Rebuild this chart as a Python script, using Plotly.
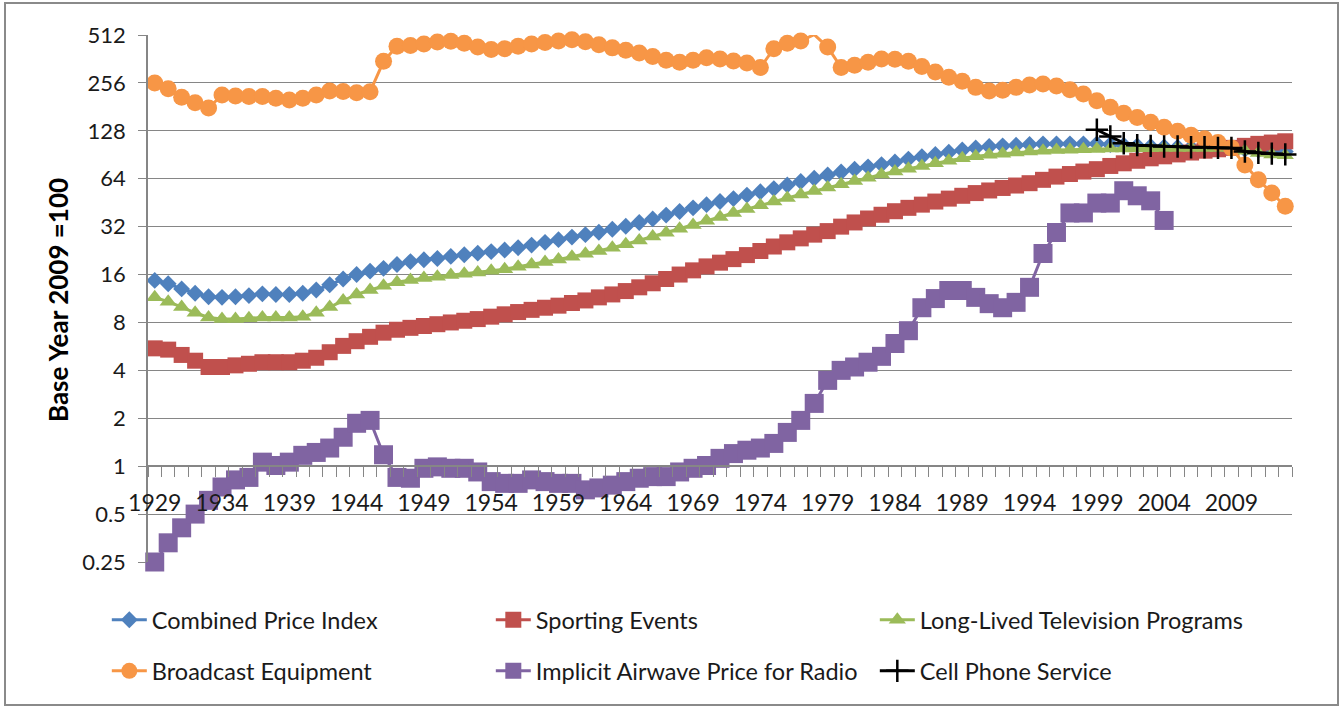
import plotly.graph_objects as go
import math

years = list(range(1929, 2014))

combined = [14.7, 14.0, 13.0, 12.2, 11.6, 11.5, 11.6, 11.8, 12.1, 12.0, 12.0, 12.2, 12.8, 13.8, 15.0, 16.0, 16.8,
            17.5, 18.5, 19.3, 19.8, 20.2, 20.8, 21.3, 21.8, 22.3, 22.8, 23.6, 24.5, 25.5, 26.5, 27.5, 28.5, 29.5,
            30.8, 32.2, 34.0, 35.8, 37.8, 39.8, 42.0, 44.0, 46.0, 48.0, 50.5, 53.0, 55.5, 58.5, 61.5, 64.5, 67.5,
            70.5, 73.5, 76.0, 78.5, 81.5, 85.0, 88.0, 91.0, 94.0, 97.0, 100.0, 102.0, 103.0, 104.0, 105.0, 106.0,
            106.0, 106.0, 106.0, 106.0, 105.0, 104.0, 103.0, 102.0, 101.5, 101.0, 100.5, 100.5, 100.5, 100.0,
            98.0, 97.0, 96.0, 95.0]

sporting = [5.5, 5.4, 5.0, 4.6, 4.2, 4.2, 4.3, 4.4, 4.5, 4.5, 4.5, 4.6, 4.8, 5.2, 5.7, 6.1, 6.5, 6.9, 7.2, 7.4,
            7.6, 7.8, 8.0, 8.2, 8.4, 8.7, 9.0, 9.3, 9.6, 9.9, 10.2, 10.6, 11.0, 11.5, 12.0, 12.6, 13.3, 14.1,
            15.0, 16.0, 17.0, 18.0, 19.0, 20.0, 21.2, 22.5, 24.0, 25.5, 27.0, 28.5, 30.0, 32.0, 34.0, 36.0, 38.0,
            40.0, 42.0, 44.0, 46.0, 48.0, 50.0, 52.0, 54.0, 56.0, 58.0, 60.0, 63.0, 66.0, 68.5, 71.0, 73.5, 77.0,
            80.0, 83.0, 86.0, 88.5, 91.0, 93.5, 96.0, 98.0, 100.0, 103.0, 106.0, 108.0, 110.0]

longlived = [11.5, 10.8, 10.0, 9.2, 8.6, 8.4, 8.4, 8.5, 8.6, 8.6, 8.6, 8.7, 9.2, 10.0, 11.0, 12.0, 12.8, 13.6,
             14.3, 14.8, 15.2, 15.5, 15.9, 16.2, 16.5, 16.9, 17.3, 17.9, 18.5, 19.2, 19.9, 20.7, 21.6, 22.5, 23.6,
             24.8, 26.2, 27.7, 29.3, 31.0, 32.8, 34.8, 36.8, 39.0, 41.3, 43.6, 46.0, 48.5, 51.0, 53.6, 56.3, 59.0,
             62.0, 65.0, 68.0, 71.0, 74.0, 77.0, 80.0, 83.0, 86.0, 88.5, 90.5, 92.0, 93.5, 95.0, 96.0, 97.0, 97.5,
             98.0, 98.5, 99.0, 99.0, 99.5, 99.5, 100.0, 100.0, 100.0, 100.0, 100.0, 100.0, 96.0, 93.0, 91.0, 90.0]

broadcast = [256, 235, 208, 192, 178, 215, 212, 210, 210, 205, 200, 205, 215, 228, 226, 222, 225, 350, 435, 440,
             450, 462, 468, 455, 430, 415, 420, 435, 450, 460, 470, 478, 465, 445, 425, 410, 395, 375, 355, 345,
             355, 368, 362, 352, 342, 320, 420, 455, 470, 515, 430, 320, 330, 345, 362, 360, 350, 325, 300, 278,
             262, 240, 228, 230, 240, 248, 252, 245, 232, 218, 198, 180, 165, 155, 145, 135, 127, 120, 114, 108,
             100, 78, 63, 52, 43]

airwave = [0.25, 0.33, 0.41, 0.5, 0.61, 0.74, 0.82, 0.85, 1.06, 1.01, 1.06, 1.17, 1.22, 1.3, 1.52, 1.86, 1.94,
           1.18, 0.85, 0.84, 0.97, 0.99, 0.97, 0.97, 0.92, 0.8, 0.78, 0.78, 0.82, 0.8, 0.78, 0.78, 0.71, 0.73,
           0.76, 0.8, 0.84, 0.86, 0.86, 0.92, 0.97, 1.01, 1.12, 1.2, 1.26, 1.3, 1.39, 1.63, 1.94, 2.48, 3.46,
           4.0, 4.2, 4.5, 4.9, 5.9, 7.1, 9.9, 11.3, 12.7, 12.7, 11.5, 10.5, 9.9, 10.7, 13.3, 21.7, 29.4, 39.0,
           39.0, 45.0, 45.0, 53.8, 50.0, 46.5, 35.0] + [None] * 9

cellphone = [None] * 70 + [130, 118, 107, 104, 103, 102, 102, 101, 101, 100, 100, 95, 93, 92, 91]

series = [
    ("Combined Price Index", combined, "#4F81BD", "diamond", 13, "legend"),
    ("Sporting Events", sporting, "#C0504D", "square", 16, "legend"),
    ("Long-Lived Television Programs", longlived, "#9BBB59", "triangle-up", 15, "legend"),
    ("Broadcast Equipment", broadcast, "#F79646", "circle", 17, "legend2"),
    ("Implicit Airwave Price for Radio", airwave, "#8064A2", "square", 19, "legend2"),
    ("Cell Phone Service", cellphone, "#000000", "cross-thin", 16, "legend2"),
]

fig = go.Figure()
for name, vals, color, sym, size, leg in series:
    marker = dict(symbol=sym, size=size, color=color)
    if sym == "cross-thin":
        marker["line"] = dict(color=color, width=2.5)
    fig.add_trace(go.Scatter(
        x=years, y=vals, name=name, mode="lines+markers",
        line=dict(color=color, width=3), marker=marker,
        legend=leg, connectgaps=False, cliponaxis=False,
    ))

ytick_vals = [0.25, 0.5, 1, 2, 4, 8, 16, 32, 64, 128, 256, 512]
ytick_text = ["0.25", "0.5", "1", "2", "4", "8", "16", "32", "64", "128", "256", "512"]
xtick_vals = list(range(1929, 2014, 5))
xtick_text = [str(v) for v in xtick_vals]

font_family = "Lato, 'Noto Sans', sans-serif"
axis_gray = "#868686"
ylo, yhi = math.log10(0.25), math.log10(512)
x_pos = (0 - ylo) / (yhi - ylo)

fig.update_layout(
    width=1344, height=709,
    margin=dict(l=148, r=52, t=35, b=147),
    paper_bgcolor="white", plot_bgcolor="white",
    font=dict(family=font_family, size=22, color="#1a1a1a"),
    showlegend=True,
    legend=dict(orientation="h", x=-0.036, y=-0.11, xanchor="left", yanchor="middle",
                entrywidth=334, itemwidth=35, font=dict(size=23.5), bgcolor="rgba(0,0,0,0)"),
    legend2=dict(orientation="h", x=-0.036, y=-0.207, xanchor="left", yanchor="middle",
                 entrywidth=334, itemwidth=35, font=dict(size=23.5), bgcolor="rgba(0,0,0,0)"),
    xaxis=dict(
        range=[1928.5, 2013.5], tickmode="array", tickvals=xtick_vals, ticktext=xtick_text,
        showgrid=False, zeroline=False, showline=True, linecolor=axis_gray, linewidth=1.5,
        anchor="free", position=x_pos, ticks="", ticklabelstandoff=16,
        tickfont=dict(size=23),
        minor=dict(tick0=1928.5, dtick=1, ticks="outside", ticklen=10, tickcolor=axis_gray, showgrid=False),
    ),
    yaxis=dict(
        type="log", range=[ylo, yhi], tickmode="array", tickvals=ytick_vals, ticktext=ytick_text,
        showgrid=True, gridcolor=axis_gray, gridwidth=1, zeroline=False,
        showline=True, linecolor=axis_gray, linewidth=1.5,
        ticks="outside", ticklen=8, tickcolor=axis_gray, ticklabelstandoff=8,
        tickfont=dict(size=22),
    ),
    annotations=[dict(
        text="<b>Base Year 2009 =100</b>", textangle=-90, showarrow=False,
        xref="paper", yref="paper", x=(58 - 148) / 1144, y=(562 - 300) / 527,
        xanchor="center", yanchor="middle", font=dict(size=26, color="#000000"),
    )],
    shapes=[dict(
        type="rect", xref="paper", yref="paper",
        x0=(5 - 148) / 1144, x1=(1338 - 148) / 1144,
        y0=(562 - 705) / 527, y1=(562 - 3) / 527,
        line=dict(color="#8a8a8a", width=2), fillcolor="rgba(0,0,0,0)", layer="below",
    )],
)

fig.write_html("out.html", config={"displayModeBar": False},
               post_script="document.body.style.margin='0';document.body.style.overflow='hidden';")
